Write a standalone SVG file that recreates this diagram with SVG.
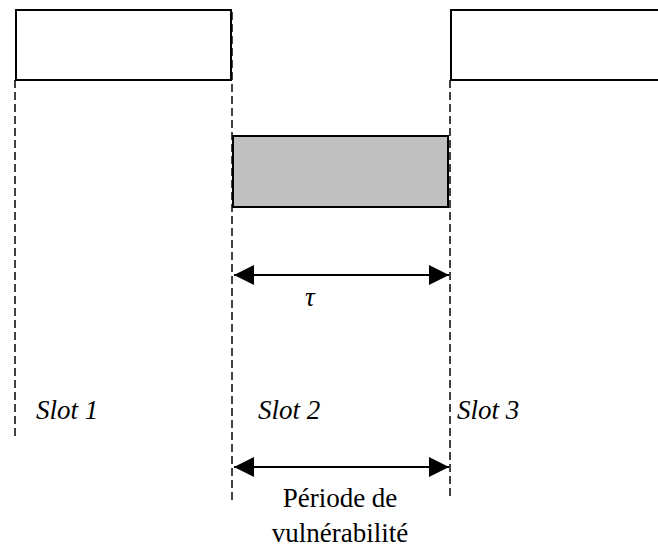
<svg xmlns="http://www.w3.org/2000/svg" width="658" height="552" viewBox="0 0 658 552">
<style>
.box{fill:#fff;stroke:#000;stroke-width:2}
.grey{fill:#c0c0c0;stroke:#000;stroke-width:2}
.dash{stroke:#000;stroke-width:1.5;stroke-dasharray:8,4;fill:none}
.arr{stroke:#000;stroke-width:2;fill:none;marker-start:url(#ah);marker-end:url(#ah)}
.t{font-family:'Liberation Serif',serif;font-size:27px;fill:#000}
.it{font-style:italic}
</style>
<defs>
<marker id="ah" viewBox="0 0 20 20" refX="20" refY="10" markerWidth="20" markerHeight="20" markerUnits="userSpaceOnUse" orient="auto-start-reverse">
<path d="M0,0 L20,10 L0,20 Z" fill="#000"/>
</marker>
</defs>
<g id="slot1-box"><rect class="box" x="16" y="10" width="215" height="70"/></g>
<g id="slot3-box"><rect class="box" x="451" y="10" width="210" height="70"/></g>
<g id="frame"><rect class="grey" x="233" y="136" width="215" height="71"/></g>
<g id="connectors">
<line class="dash" x1="15" y1="80" x2="15" y2="440"/>
<line class="dash" x1="232" y1="12" x2="232" y2="500"/>
<line class="dash" x1="450" y1="80" x2="450" y2="500"/>
<line class="arr" x1="234" y1="275" x2="449" y2="275"/>
<line class="arr" x1="234" y1="467" x2="449" y2="467"/>
</g>
<g id="labels">
<text class="t it" x="305" y="306" font-family="Liberation Serif, serif">τ</text>
<text class="t it" x="36" y="419" font-family="Liberation Serif, serif">Slot 1</text>
<text class="t it" x="258" y="419" font-family="Liberation Serif, serif">Slot 2</text>
<text class="t it" x="457" y="419" font-family="Liberation Serif, serif">Slot 3</text>
<text class="t" x="340" y="507" text-anchor="middle" font-family="Liberation Serif, serif">Période de</text>
<text class="t" x="340" y="542" text-anchor="middle" font-family="Liberation Serif, serif">vulnérabilité</text>
</g>
</svg>
